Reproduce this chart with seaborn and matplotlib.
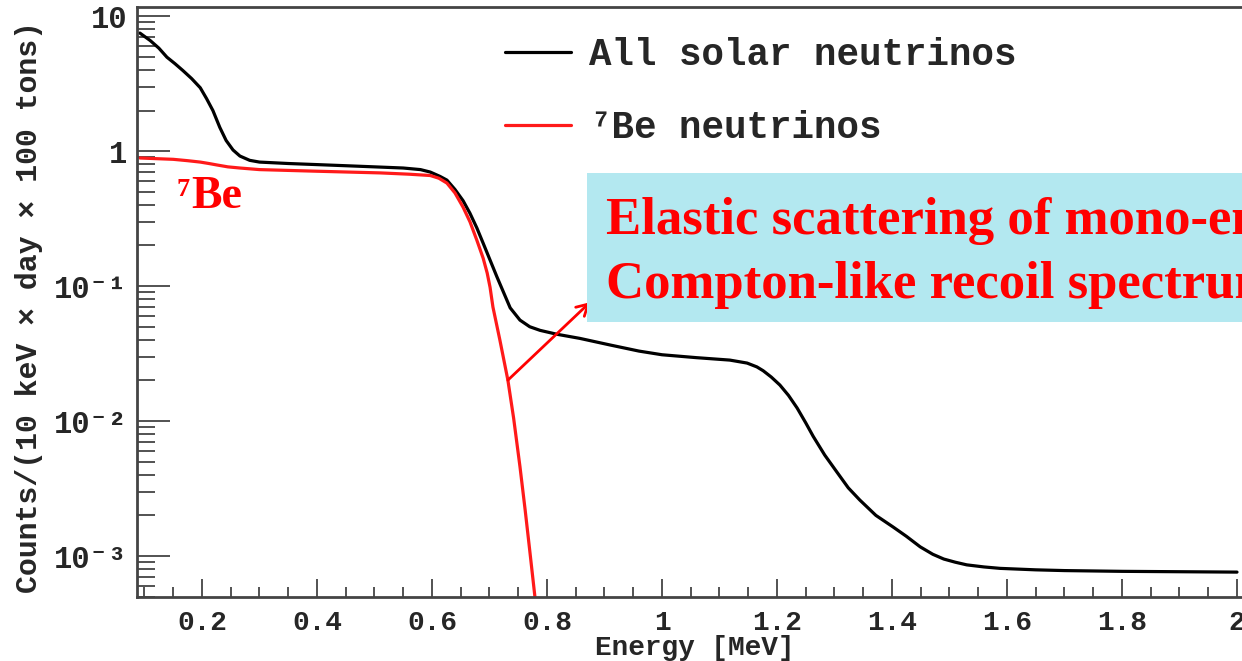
import matplotlib

matplotlib.use("Agg")
import matplotlib.pyplot as plt
import matplotlib.ticker as mticker
import numpy as np
import pandas as pd
import seaborn as sns

# --------------------------------------------------------------------------- #
# Data
# --------------------------------------------------------------------------- #
all_energy = [0.092, 0.11, 0.125, 0.139, 0.153, 0.167, 0.182, 0.197, 0.208,
              0.219, 0.231, 0.242, 0.254, 0.266, 0.283, 0.30, 0.35, 0.40,
              0.45, 0.50, 0.55, 0.58, 0.597, 0.614, 0.626, 0.640, 0.654,
              0.666, 0.678, 0.689, 0.701, 0.713, 0.723, 0.736, 0.753, 0.770,
              0.788, 0.817, 0.857, 0.91, 0.96, 1.0, 1.06, 1.118, 1.148,
              1.165, 1.176, 1.19, 1.205, 1.22, 1.235, 1.25, 1.263, 1.283,
              1.304, 1.324, 1.344, 1.372, 1.402, 1.425, 1.449, 1.471, 1.49,
              1.51, 1.53, 1.56, 1.588, 1.65, 1.70, 1.80, 1.90, 2.0]
all_counts = [7.5, 6.6, 5.8, 4.97, 4.45, 3.95, 3.45, 2.95, 2.45,
              2.0, 1.5, 1.2, 1.02, 0.92, 0.855, 0.83, 0.81, 0.795,
              0.78, 0.765, 0.75, 0.73, 0.70, 0.65, 0.61, 0.52, 0.43,
              0.347, 0.27, 0.208, 0.156, 0.117, 0.093, 0.069, 0.056, 0.050,
              0.047, 0.044, 0.041, 0.0366, 0.033, 0.031, 0.0295, 0.0283, 0.0269,
              0.0252, 0.0236, 0.0212, 0.0185, 0.0155, 0.0125, 0.0097, 0.0077,
              0.0056, 0.0042, 0.0032, 0.0026, 0.0020, 0.00164, 0.0014, 0.00117,
              0.00103, 0.00095, 0.0009, 0.00086, 0.00083, 0.00081, 0.00079,
              0.00078, 0.00077, 0.000765, 0.00076]

be7_energy = [0.092, 0.12, 0.15, 0.175, 0.197, 0.212, 0.226, 0.245, 0.266,
              0.30, 0.40, 0.51, 0.56, 0.597, 0.612, 0.626, 0.640, 0.654,
              0.666, 0.678, 0.689, 0.696, 0.701, 0.706, 0.718, 0.732, 0.742,
              0.753, 0.762, 0.770, 0.779]
be7_counts = [0.89, 0.88, 0.87, 0.85, 0.83, 0.81, 0.79, 0.765, 0.75,
              0.73, 0.71, 0.69, 0.675, 0.66, 0.63, 0.58, 0.49, 0.385,
              0.30, 0.219, 0.161, 0.125, 0.098, 0.070, 0.040, 0.0201, 0.0105,
              0.0046, 0.0022, 0.0011, 0.0005]

x_ticks = [0.2, 0.4, 0.6, 0.8, 1.0, 1.2, 1.4, 1.6, 1.8, 2.0]
x_tick_labels = ["0.2", "0.4", "0.6", "0.8", "1", "1.2", "1.4", "1.6", "1.8", "2"]
y_ticks = [1e-3, 1e-2, 1e-1, 1, 10]
y_tick_labels = ["10⁻³", "10⁻²", "10⁻¹", "1", "10"]

series_labels = ["All solar neutrinos", "⁷Be neutrinos"]
box_lines = ["Elastic scattering of mono-energetic",
             "Compton-like recoil spectrum"]

# --------------------------------------------------------------------------- #
# Figure
# --------------------------------------------------------------------------- #
sns.set_style("ticks")
MONO = ["Liberation Mono", "DejaVu Sans Mono"]
SERIF = ["Liberation Serif", "DejaVu Serif"]
plt.rcParams["font.family"] = MONO
plt.rcParams["font.weight"] = "bold"

W, H = 1242, 661
fig = plt.figure(figsize=(W / 100, H / 100), dpi=100)
# axes box in pixels: left 137, right 1242, top 7, bottom 597
ax = fig.add_axes([137 / W, (H - 597) / H, (W - 137) / W, 590 / H])

df_all = pd.DataFrame({"energy": all_energy, "counts": all_counts})
df_be = pd.DataFrame({"energy": be7_energy, "counts": be7_counts})
sns.lineplot(data=df_all, x="energy", y="counts", color="black", lw=2.3,
             estimator=None, sort=False, ax=ax, label=series_labels[0])
sns.lineplot(data=df_be, x="energy", y="counts", color="#ff1a1a", lw=2.3,
             estimator=None, sort=False, ax=ax, label=series_labels[1])

ax.set_yscale("log")
ax.set_xlim(0.087, 2.0087)
ax.set_ylim(4.97e-4, 11.7)

ax.set_xticks(x_ticks)
ax.set_xticklabels(x_tick_labels)
ax.xaxis.set_minor_locator(mticker.MultipleLocator(0.05))
ax.set_yticks(y_ticks)
ax.set_yticklabels(y_tick_labels)
ax.yaxis.set_minor_locator(mticker.LogLocator(base=10, subs=np.arange(2, 10)))
ax.yaxis.set_minor_formatter(mticker.NullFormatter())

tick_col = "#444444"
ax.tick_params(axis="x", which="major", direction="in", length=13, width=1.3,
               color=tick_col, pad=9, labelsize=20)
ax.tick_params(axis="x", which="minor", direction="in", length=7, width=1.3,
               color=tick_col)
ax.tick_params(axis="y", which="major", direction="in", length=24, width=1.3,
               color=tick_col, pad=7, labelsize=22)
ax.tick_params(axis="y", which="minor", direction="in", length=13, width=1.3,
               color=tick_col)
for lab in ax.get_xticklabels() + ax.get_yticklabels():
    lab.set_fontweight("bold")
    lab.set_family(MONO)

for side in ["left", "bottom", "top"]:
    ax.spines[side].set_linewidth(2)
    ax.spines[side].set_color(tick_col)
ax.spines["right"].set_visible(False)

ax.set_xlabel("Energy [MeV]", fontsize=20, fontweight="bold")
ax.set_ylabel("Counts/(10 keV × day × 100 tons)", fontsize=21.5,
              fontweight="bold")
ax.xaxis.set_label_coords((695 - 137) / 1105, (597 - 635) / 590)
ax.yaxis.set_label_coords((43 - 137) / 1105, (597 - 307) / 590)

leg = ax.legend(loc="upper left", bbox_to_anchor=(505 / W, 1 - 37 / H),
                bbox_transform=fig.transFigure, frameon=False, borderpad=0,
                borderaxespad=0, handlelength=1.75, handletextpad=0.48,
                labelspacing=1.0, prop={"family": MONO, "weight": "bold",
                                        "size": 27})

# 7Be label next to the red plateau
fig.text(177 / W, 1 - 196 / H, "7", color="red", fontsize=19,
         fontweight="bold", family=SERIF, va="baseline")
fig.text(191 / W, 1 - 208 / H, "Be", color="red", fontsize=33,
         fontweight="bold", family=SERIF, va="baseline")

# cyan annotation box
box = plt.Rectangle((587 / W, 1 - 322 / H), (W - 587) / W, 149 / H,
                    transform=fig.transFigure, facecolor="#b3e8f0",
                    edgecolor="none", zorder=3)
fig.patches.append(box)
fig.text(606 / W, 1 - 234 / H, box_lines[0], color="red", fontsize=38,
         fontweight="bold", family=SERIF, va="baseline", zorder=4)
fig.text(606 / W, 1 - 298 / H, box_lines[1], color="red", fontsize=38,
         fontweight="bold", family=SERIF, va="baseline", zorder=4)

# arrow from the 7Be edge to the box
ax.annotate("", xy=(0.875, 0.076), xytext=(be7_energy[25], be7_counts[25]),
            arrowprops=dict(arrowstyle="->,head_length=0.8,head_width=0.45",
                            color="red", lw=2, shrinkA=0, shrinkB=0))

fig.savefig("out.png", dpi=100)
